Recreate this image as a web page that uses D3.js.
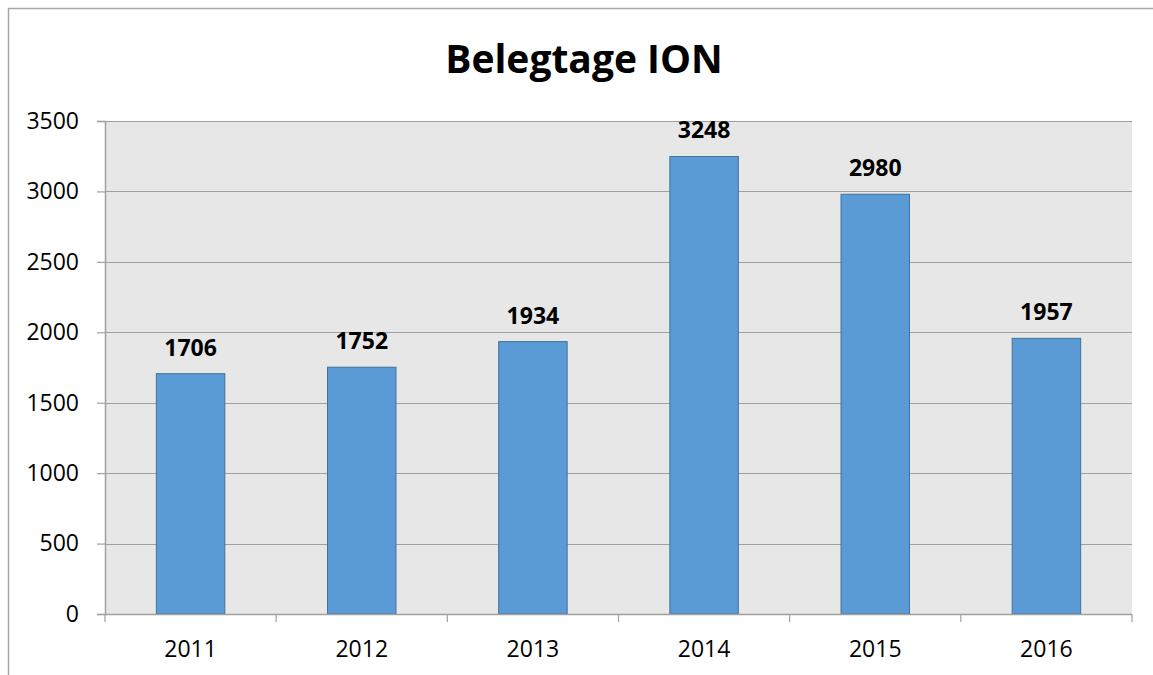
<!DOCTYPE html>
<html>
<head>
<meta charset="utf-8">
<script src="https://cdn.jsdelivr.net/npm/d3@7"></script>
<style>
  body { margin: 0; background: #fff; }
  svg { display: block; font-family: "Open Sans", Lato, sans-serif; }
</style>
</head>
<body>
<svg id="chart" width="1153" height="675"></svg>
<script>
/* DATA */
var years = ["2011", "2012", "2013", "2014", "2015", "2016"];
var belegtage = [1706, 1752, 1934, 3248, 2980, 1957];
var yTicks = [0, 500, 1000, 1500, 2000, 2500, 3000, 3500];

var svg = d3.select("#chart");

/* CHART BORDER (RIGHT AND BOTTOM RUN OFF THE PAGE) */
svg.append("rect")
  .attr("x", 8.5).attr("y", 8.5)
  .attr("width", 1200).attr("height", 700)
  .attr("fill", "none")
  .attr("stroke", "#a6a6a6")
  .attr("stroke-width", 1.5);

var plot = { left: 105, top: 121, right: 1132, bottom: 614 };

var x = d3.scaleBand().domain(years).range([plot.left, plot.right]).padding(0);
var y = d3.scaleLinear().domain([0, 3500]).range([plot.bottom, plot.top]);

/* PLOT BACKGROUND */
svg.append("rect")
  .attr("x", plot.left).attr("y", plot.top)
  .attr("width", plot.right - plot.left)
  .attr("height", plot.bottom - plot.top)
  .attr("fill", "#e7e7e7");

/* GRIDLINES */
svg.append("g").selectAll("line")
  .data(yTicks.slice(1))
  .enter().append("line")
  .attr("x1", plot.left).attr("x2", plot.right)
  .attr("y1", function(d) { return Math.round(y(d)) + 0.5; })
  .attr("y2", function(d) { return Math.round(y(d)) + 0.5; })
  .attr("stroke", "#a0a0a0")
  .attr("stroke-width", 1.2);

/* BARS */
var barW = x.bandwidth() * 0.4;
svg.append("g").selectAll("rect")
  .data(belegtage)
  .enter().append("rect")
  .attr("x", function(d, i) { return x(years[i]) + (x.bandwidth() - barW) / 2; })
  .attr("y", function(d) { return y(d); })
  .attr("width", barW)
  .attr("height", function(d) { return y(0) - y(d); })
  .attr("fill", "#5b9bd5")
  .attr("stroke", "#41719c")
  .attr("stroke-width", 1);

/* DATA LABELS */
svg.append("g").selectAll("text")
  .data(belegtage)
  .enter().append("text")
  .attr("x", function(d, i) { return x(years[i]) + x.bandwidth() / 2; })
  .attr("y", function(d) { return y(d) - 18; })
  .attr("text-anchor", "middle")
  .attr("font-size", "23px")
  .attr("font-weight", "bold")
  .attr("fill", "#000")
  .text(function(d) { return d; });

/* Y AXIS */
var yAxis = svg.append("g")
  .attr("transform", "translate(" + plot.left + ",0)")
  .call(d3.axisLeft(y).tickValues(yTicks).tickFormat(d3.format("d")).tickSize(8).tickPadding(18));
yAxis.select(".domain").attr("stroke", "#a0a0a0").attr("stroke-width", 1.5);
yAxis.selectAll(".tick line").attr("stroke", "#a0a0a0").attr("stroke-width", 1.2);
yAxis.selectAll(".tick text")
  .attr("font-size", "23px").attr("font-family", "'Open Sans', sans-serif").attr("fill", "#000");

/* X AXIS: TICKS AT CATEGORY BOUNDARIES */
var xAxis = svg.append("g").attr("transform", "translate(0," + plot.bottom + ")");
xAxis.append("line")
  .attr("x1", plot.left).attr("x2", plot.right)
  .attr("y1", 0.5).attr("y2", 0.5)
  .attr("stroke", "#a0a0a0").attr("stroke-width", 1.5);
var bounds = years.map(function(d) { return x(d); }).concat([plot.right]);
xAxis.selectAll(".xtick")
  .data(bounds)
  .enter().append("line")
  .attr("class", "xtick")
  .attr("x1", function(d) { return d; }).attr("x2", function(d) { return d; })
  .attr("y1", 0).attr("y2", 8)
  .attr("stroke", "#a0a0a0").attr("stroke-width", 1.2);
xAxis.selectAll(".xlabel")
  .data(years)
  .enter().append("text")
  .attr("class", "xlabel")
  .attr("x", function(d) { return x(d) + x.bandwidth() / 2; })
  .attr("y", 43)
  .attr("text-anchor", "middle")
  .attr("font-size", "23px")
  .attr("fill", "#000")
  .text(function(d) { return d; });

/* TITLE */
svg.append("text")
  .attr("x", 584)
  .attr("y", 73)
  .attr("text-anchor", "middle")
  .attr("font-size", "39px")
  .attr("font-weight", "bold")
  .attr("fill", "#000")
  .text("Belegtage ION");
</script>
</body>
</html>
